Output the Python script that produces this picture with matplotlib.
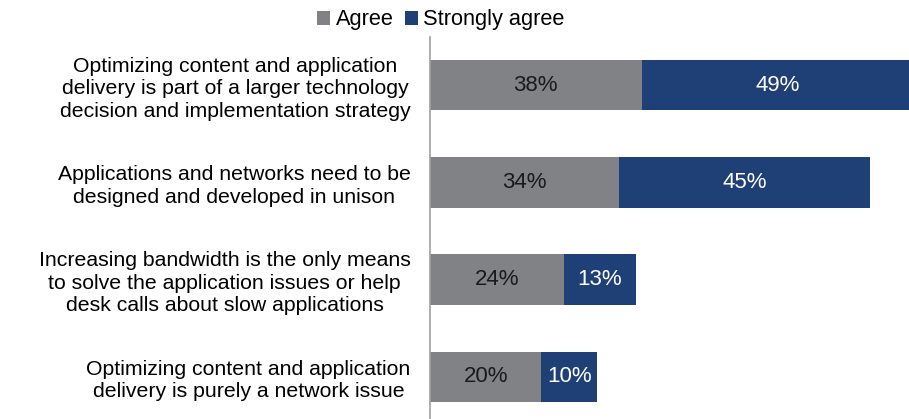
import matplotlib.pyplot as plt

plt.rcParams['font.family'] = ['Liberation Sans', 'DejaVu Sans']

statements = [
    "Optimizing content and application\ndelivery is part of a larger technology\ndecision and implementation strategy",
    "Applications and networks need to be\ndesigned and developed in unison",
    "Increasing bandwidth is the only means\nto solve the application issues or help\ndesk calls about slow applications",
    "Optimizing content and application\ndelivery is purely a network issue",
]
agree = [38, 34, 24, 20]
strongly_agree = [49, 45, 13, 10]

gray = "#808285"
navy = "#1F3F77"

fig = plt.figure(figsize=(9.09, 4.19), dpi=100)
ax = fig.add_axes([430 / 909, -6.5 / 419, 479 / 909, 389 / 419])

y = range(len(statements))
b1 = ax.barh(y, agree, height=0.52, color=gray, label="Agree")
b2 = ax.barh(y, strongly_agree, left=agree, height=0.52, color=navy, label="Strongly agree")

for rect, v in zip(b1, agree):
    ax.text(rect.get_x() + rect.get_width() / 2, rect.get_y() + rect.get_height() / 2,
            f"{v}%", ha="center", va="center", fontsize=16, color="#1a1a1a")
for rect, v in zip(b2, strongly_agree):
    ax.text(rect.get_x() + rect.get_width() / 2, rect.get_y() + rect.get_height() / 2,
            f"{v}%", ha="center", va="center", fontsize=16, color="white")

ax.set_xlim(0, 86.0)
ax.set_ylim(3.5, -0.5)
ax.set_xticks([])
ax.set_yticks(list(y))
ax.set_yticklabels(statements, fontsize=15.3, multialignment="center", linespacing=1.22)
ax.tick_params(axis="y", length=0, pad=14)
for s in ["top", "right", "bottom"]:
    ax.spines[s].set_visible(False)
ax.spines["left"].set_color("#A0A0A0")
ax.spines["left"].set_linewidth(1.2)

fig.legend(handles=[b1, b2], loc="center", bbox_to_anchor=(441 / 909, 1 - 20 / 419),
           ncol=2, frameon=False, fontsize=15.7, handlelength=0.6, handleheight=0.6,
           handletextpad=0.25, columnspacing=0.5, borderpad=0)

fig.savefig("out.png", dpi=100)
